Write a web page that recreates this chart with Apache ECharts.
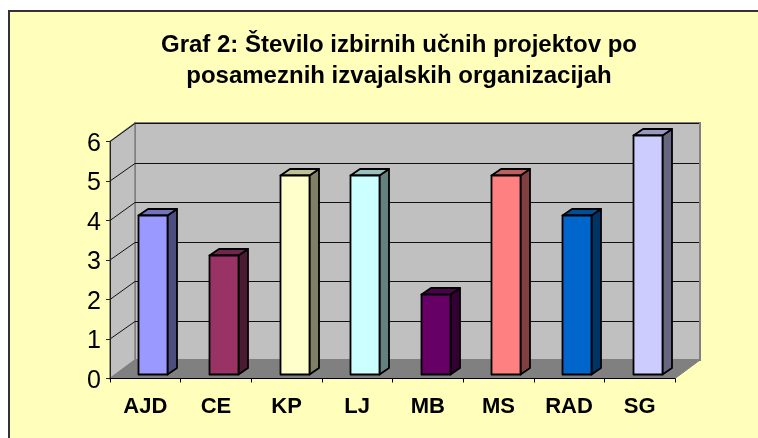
<!DOCTYPE html>
<html>
<head>
<meta charset="utf-8">
<style>
  html, body { margin: 0; padding: 0; background: #fff; }
  #chart { width: 758px; height: 438px; }
</style>
<script src="https://cdn.jsdelivr.net/npm/echarts@6/dist/echarts.min.js"></script>
</head>
<body>
<div id="chart"></div>
<script>
var categories = ['AJD', 'CE', 'KP', 'LJ', 'MB', 'MS', 'RAD', 'SG']
var values = [4, 3, 5, 5, 2, 5, 4, 6]
var barColors = ['#9999ff', '#993366', '#ffffcc', '#ccffff', '#660066', '#ff8080', '#0066cc', '#ccccff']
var yTicks = [0, 1, 2, 3, 4, 5, 6]

// depth of the 3d box and of each bar, in pixels
var wallDx = 25
var wallDy = -18.5
var barDx = 9.5
var barDy = -6.5

function shade(hex, k) {
  var n = parseInt(hex.slice(1), 16)
  var r = Math.round((n >> 16 & 255) * k)
  var g = Math.round((n >> 8 & 255) * k)
  var b = Math.round((n & 255) * k)
  return 'rgb(' + r + ',' + g + ',' + b + ')'
}

function renderWalls(params) {
  var c = params.coordSys
  var l = c.x
  var r = c.x + c.width
  var t = c.y
  var b = c.y + c.height
  return {
    type: 'group',
    children: [
      { type: 'polygon', shape: { points: [[l + wallDx, t + wallDy], [r + wallDx, t + wallDy], [r + wallDx, b + wallDy], [l + wallDx, b + wallDy]] },
        style: { fill: '#c0c0c0', stroke: '#808080', lineWidth: 2 } },
      { type: 'polygon', shape: { points: [[l, t], [l + wallDx, t + wallDy], [l + wallDx, b + wallDy], [l, b]] },
        style: { fill: '#c0c0c0', stroke: '#808080', lineWidth: 1.5 } },
      { type: 'polygon', shape: { points: [[l, b], [r, b], [r + wallDx, b + wallDy], [l + wallDx, b + wallDy]] },
        style: { fill: '#808080', stroke: '#808080', lineWidth: 1 } }
    ]
  }
}

function renderGridLine(params, api) {
  var c = params.coordSys
  var y = api.coord([0, api.value(0)])[1]
  if (api.value(0) === 0) {
    return { type: 'group', children: [] }
  }
  var backY = Math.round(y + wallDy) + 0.5
  return {
    type: 'polyline',
    shape: { points: [[c.x, y], [c.x + wallDx, backY], [c.x + c.width + wallDx - 1, backY]] },
    style: { fill: 'none', stroke: '#111', lineWidth: 1 }
  }
}

function renderBar(params, api) {
  var idx = api.value(0)
  var top = api.coord([idx, api.value(1)])
  var base = api.coord([idx, 0])
  var w = api.size([1, 0])[0] * 0.41
  var l = Math.round(top[0] - w / 2) + 0.5
  var r = l + Math.round(w)
  var t = Math.floor(top[1]) + 0.5
  var b = Math.floor(base[1]) + 0.5
  var color = barColors[idx]
  var line = { stroke: '#000', lineWidth: 1.8, lineJoin: 'round' }
  return {
    type: 'group',
    children: [
      { type: 'polygon', shape: { points: [[r, t], [r + barDx, t + barDy], [r + barDx, b + barDy], [r, b]] },
        style: Object.assign({ fill: shade(color, 0.5) }, line) },
      { type: 'polygon', shape: { points: [[l, t], [l + barDx, t + barDy], [r + barDx, t + barDy], [r, t]] },
        style: Object.assign({ fill: shade(color, 0.75) }, line) },
      { type: 'rect', shape: { x: l, y: t, width: r - l, height: b - t },
        style: Object.assign({ fill: color }, line) }
    ]
  }
}

var chart = echarts.init(document.getElementById('chart'))
chart.setOption({
  animation: false,
  backgroundColor: '#fff',
  graphic: [{
    type: 'rect',
    z: -10,
    shape: { x: 9, y: 11, width: 760, height: 440 },
    style: { fill: '#ffffbb', stroke: '#333', lineWidth: 2 }
  }],
  title: {
    left: 394,
    top: 25,
    textAlign: 'center',
    text: 'Graf 2: Število izbirnih učnih projektov po\nposameznih izvajalskih organizacijah',
    textStyle: {
      color: '#000',
      fontFamily: 'Liberation Sans',
      fontSize: 24,
      fontWeight: 700,
      lineHeight: 31
    }
  },
  grid: [
    { left: 110, top: 141.5, width: 565, height: 237 },
    // bars sit a little inside the box, so they get their own plane
    { left: 117.5, top: 135.5, width: 565, height: 239 }
  ],
  xAxis: [{
    gridIndex: 0,
    type: 'category',
    data: categories,
    z: 5,
    axisLine: { lineStyle: { color: '#000', width: 1 } },
    axisTick: { show: true, length: 4, lineStyle: { color: '#000' } },
    axisLabel: { color: '#000', fontFamily: 'Liberation Sans', fontSize: 22, fontWeight: 700, margin: 17 }
  }, {
    gridIndex: 1,
    type: 'category',
    data: categories,
    show: false
  }],
  yAxis: [{
    gridIndex: 0,
    type: 'value',
    min: 0,
    max: 6,
    interval: 1,
    z: 5,
    axisLine: { show: true, lineStyle: { color: '#222', width: 1 } },
    axisTick: { show: true, length: 4, lineStyle: { color: '#222' } },
    axisLabel: {
      margin: 9,
      formatter: '{n|{value}}',
      rich: {
        n: { color: '#000', fontFamily: 'Liberation Sans', fontSize: 25, padding: [5, 0, 0, 0] }
      }
    },
    splitLine: { show: false }
  }, {
    gridIndex: 1,
    type: 'value',
    min: 0,
    max: 6,
    show: false
  }],
  series: [{
    type: 'custom',
    xAxisIndex: 0,
    yAxisIndex: 0,
    z: 1,
    silent: true,
    clip: false,
    renderItem: renderWalls,
    data: [0]
  }, {
    type: 'custom',
    xAxisIndex: 0,
    yAxisIndex: 0,
    z: 2,
    silent: true,
    clip: false,
    encode: { y: 0 },
    renderItem: renderGridLine,
    data: yTicks.map(function(v) { return [v] })
  }, {
    type: 'custom',
    xAxisIndex: 1,
    yAxisIndex: 1,
    z: 3,
    clip: false,
    encode: { x: 0, y: 1 },
    renderItem: renderBar,
    data: values.map(function(v, i) { return [i, v] })
  }]
})
</script>
</body>
</html>
